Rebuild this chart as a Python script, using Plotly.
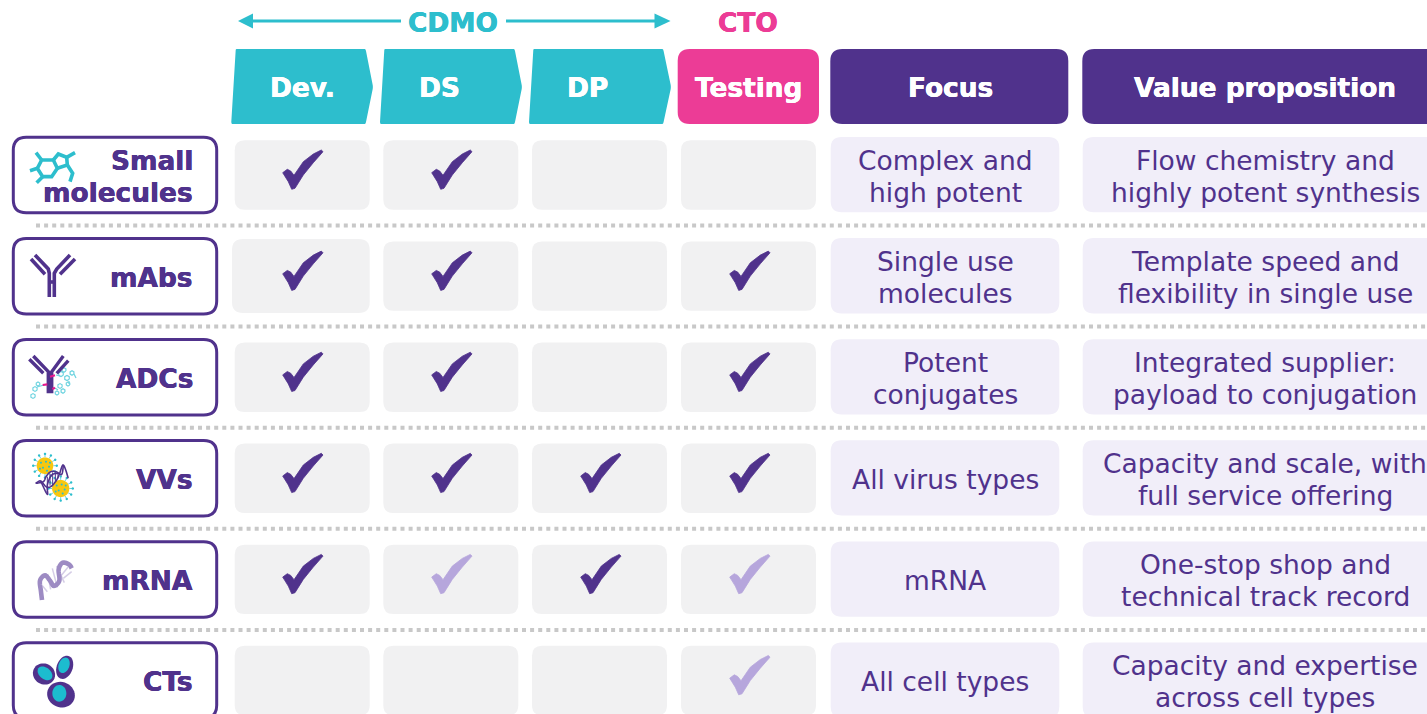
import numpy as np
import plotly.graph_objects as go

# ---------- data ----------
row_labels = [["Small", "molecules"], ["mAbs"], ["ADCs"], ["VVs"], ["mRNA"], ["CTs"]]
service_headers = ["Dev.", "DS", "DP", "Testing"]
# 2 = full offering, 1 = partial offering, 0 = none
dev_status = [2, 2, 2, 2, 2, 0]
ds_status = [2, 2, 2, 2, 1, 0]
dp_status = [0, 0, 0, 2, 2, 0]
testing_status = [0, 2, 2, 2, 1, 1]
focus_text = [["Complex and", "high potent"], ["Single use", "molecules"], ["Potent", "conjugates"],
              ["All virus types"], ["mRNA"], ["All cell types"]]
value_text = [["Flow chemistry and", "highly potent synthesis"], ["Template speed and", "flexibility in single use"],
              ["Integrated supplier:", "payload to conjugation"], ["Capacity and scale, with", "full service offering"],
              ["One-stop shop and", "technical track record"], ["Capacity and expertise", "across cell types"]]

# ---------- style / layout ----------
PURPLE, CYAN, PINK = "#50328c", "#2dbecd", "#ec3c96"
LIGHTCHK, GREY, LILAC, DOT = "#b6a6dc", "#f1f1f2", "#f1eef9", "#c8c8c8"
FONT = "DejaVu Sans"
BOLD, REG = 26.4, 26.5
ROW_STEP = 101.1
LINE_GAP = 32
TEXT_DY = -0.8
col_left = [234.7, 383.3, 532, 681]
col_right = [369.7, 518.3, 667, 816]
col_center = [302, 451, 600, 749]

shapes, annotations = [], []


def rrect(x0, y0, x1, y1, r):
    return (f"M{x0+r},{y0} L{x1-r},{y0} Q{x1},{y0} {x1},{y0+r} L{x1},{y1-r} Q{x1},{y1} {x1-r},{y1} "
            f"L{x0+r},{y1} Q{x0},{y1} {x0},{y1-r} L{x0},{y0+r} Q{x0},{y0} {x0+r},{y0} Z")


def add_path(path, fill=None, line=None, width=0, layer="below"):
    d = dict(type="path", xref="x", yref="y", path=path, layer=layer,
             line=dict(color=line or "rgba(0,0,0,0)", width=width))
    if fill:
        d["fillcolor"] = fill
    shapes.append(d)


def polyline(pts, closed=False):
    s = "M" + " L".join(f"{x:.2f},{y:.2f}" for x, y in pts)
    return s + (" Z" if closed else "")


def smooth(pts, n=8):
    p = np.array(pts, float)
    p = np.vstack([p[0], p, p[-1]])
    out = []
    for i in range(1, len(p) - 2):
        for t in np.linspace(0, 1, n, endpoint=False):
            a = 2 * p[i] + (p[i + 1] - p[i - 1]) * t + (2 * p[i - 1] - 5 * p[i] + 4 * p[i + 1] - p[i + 2]) * t**2 \
                + (-p[i - 1] + 3 * p[i] - 3 * p[i + 1] + p[i + 2]) * t**3
            out.append(a / 2)
    out.append(p[-2])
    return out


def ellipse(cx, cy, rx, ry, deg):
    t = np.linspace(0, 2 * np.pi, 40)[:-1]
    c, s = np.cos(np.radians(deg)), np.sin(np.radians(deg))
    return polyline([(cx + rx * np.cos(a) * c - ry * np.sin(a) * s, cy + rx * np.cos(a) * s + ry * np.sin(a) * c) for a in t], True)


def text(x, y, s, color, size, bold=False, anchor="center"):
    font = dict(family=FONT, size=size, color=color)
    if bold:
        font["shadow"] = f"0.3px 0 0 {color}, -0.3px 0 0 {color}"
    annotations.append(dict(x=x, y=y + TEXT_DY, xref="x", yref="y", text=f"<b>{s}</b>" if bold else s, showarrow=False,
                            xanchor=anchor, yanchor="middle", borderpad=0, font=font))


def lines(x, yc, items, color, size, bold=False, anchor="center"):
    n = len(items)
    for i, s in enumerate(items):
        text(x, yc + (i - (n - 1) / 2) * LINE_GAP, s, color, size, bold, anchor)


# ---------- top band ----------
add_path("M401,21 L250,21", None, CYAN, 3)
add_path("M238,21 L253,13.5 L253,28.5 Z", CYAN)
add_path("M506,21 L656,21", None, CYAN, 3)
add_path("M670.5,21 L654.5,13.5 L654.5,28.5 Z", CYAN)
text(453, 23, "CDMO", CYAN, BOLD, True)
text(748, 23, "CTO", PINK, BOLD, True)

# ---------- headers ----------
for x0b, x0t, x1t, x1p in [(231.3, 235.7, 365.7, 372.7), (380, 384.3, 514.7, 521.7), (529, 533.3, 663.3, 670.7)]:
    add_path(f"M{x0t+1},49 L{x1t-1},49 Q{x1t},49 {x1t+.3},51 L{x1p},85 Q{x1p+.3},87 {x1p},89 L{x1t+.3},122 Q{x1t},124 {x1t-1},124 "
             f"L{x0b+1},124 Q{x0b},124 {x0b},122 L{x0t},50 Q{x0t},49 {x0t+1},49 Z", CYAN)
add_path(rrect(677.7, 49, 819, 124, 12), PINK)
add_path(rrect(830.3, 49, 1068.3, 124, 12), PURPLE)
add_path(rrect(1082.3, 49, 1470, 124, 12), PURPLE)
for x, s in zip([302, 439, 587, 748], service_headers):
    text(x, 88, s, "white", BOLD, True)
text(950, 88, "Focus", "white", BOLD, True)
text(1265, 88, "Value proposition", "white", BOLD, True)

# ---------- rows ----------
status_cols = [dev_status, ds_status, dp_status, testing_status]
for r in range(len(row_labels)):
    dy = r * ROW_STEP
    add_path(rrect(13.3, 137.3 + dy, 216.7, 212.8 + dy, 13), "white", PURPLE, 3)
    for c in range(4):
        if r == 1 and c == 0:
            add_path(rrect(232, 137.9 + dy, 369.7, 212 + dy, 11), GREY)
        else:
            add_path(rrect(col_left[c], 140.3 + dy, col_right[c], 209.7 + dy, 10), GREY)
    add_path(rrect(830.7, 137 + dy, 1059.3, 212.3 + dy, 11), LILAC)
    add_path(rrect(1082.7, 137 + dy, 1470, 212.3 + dy, 11), LILAC)
    lines(945, 177 + dy, focus_text[r], PURPLE, REG)
    lines(1265, 177 + dy, value_text[r], PURPLE, REG)
    lines(193.7, 177 + dy, row_labels[r], PURPLE, BOLD, True, "right")
    if r < 5:
        shapes.append(dict(type="line", xref="x", yref="y", x0=36, x1=1427, y0=225.5 + dy, y1=225.5 + dy, layer="below",
                           line=dict(color=DOT, width=4, dash="4px,4.1px")))

# ---------- check marks (one outline, repeated at each filled cell) ----------
check_outline = [(-19.3, -2.3), (-14.7, -5.7), (-11.3, -4), (-8, 0.3), (1.3, -13.3), (11.3, -21), (19.3, -25), (21, -23.3),
                 (11.3, -12.3), (1.3, 0), (-7, 13.3), (-10.3, 14.3), (-13.7, 6.7), (-17, 1), (-19.3, -2.3)]
series = {2: ([], []), 1: ([], [])}
for c, col in enumerate(status_cols):
    for r, v in enumerate(col):
        if v:
            X, Y = series[v]
            X += [col_center[c] + p[0] for p in check_outline] + [None]
            Y += [175 + r * ROW_STEP + p[1] for p in check_outline] + [None]
fig = go.Figure()
for v, color in [(2, PURPLE), (1, LIGHTCHK)]:
    fig.add_trace(go.Scatter(x=series[v][0], y=series[v][1], mode="lines", fill="toself", fillcolor=color,
                             line=dict(color=color, width=0.8), hoverinfo="skip", showlegend=False))


# ---------- row icons ----------
def stroke(pts, color, w, smoothed=False):
    add_path(polyline(smooth(pts) if smoothed else pts), None, color, w, "above")


def Z(ox, oy, pts):
    return [(ox + x / 3, oy + y / 3) for x, y in pts]


# small molecule
for seg in [[(65, 60), (100, 60), (112, 85), (95, 110), (68, 110), (52, 85), (65, 60)],
            [(100, 60), (115, 42), (140, 52), (142, 75), (112, 85)],
            [(65, 60), (48, 38)], [(52, 85), (30, 92)], [(68, 110), (50, 128)], [(140, 52), (165, 38)],
            [(142, 75), (158, 100), (150, 125)]]:
    stroke(Z(20, 140, seg), CYAN, 3.6)

# antibody
for seg in [[(31, 259), (45, 274.3)], [(35, 255), (48.3, 269), (49.3, 273.3), (49.3, 297)], [(75, 259), (60, 274.3)],
            [(70, 255), (56.7, 269), (54.3, 273.3), (54.3, 297)], [(49.3, 282), (54.3, 282)]]:
    stroke(seg, PURPLE, 3.6)

# ADC
mol = "#6fd4e0"
for cx, cy, rad in [(35, 389, 2.4), (33, 396, 2.4), (38, 384, 2), (61, 374, 2.6), (67, 378, 2.6), (72, 373, 2.2), (64, 370, 2.2),
                    (60, 386, 2.4), (63, 391, 2.2), (57, 393, 2), (68, 384, 2)]:
    ang = np.radians(np.arange(30, 391, 60))
    stroke([(cx + rad * np.cos(a), cy + rad * np.sin(a)) for a in ang], mol, 1.2)
for seg in [[(37, 387), (44, 385)], [(56, 375), (60, 376)], [(55, 388), (58, 390)], [(69, 381), (69, 384)], [(74, 374), (76, 378)]]:
    stroke(seg, mol, 1.2)
for seg in [[(29.3, 359.3), (43.3, 373.3)], [(33.3, 356), (48.3, 371.7), (48.3, 393.3)], [(63.3, 356), (51.7, 371.7), (51.7, 393.3)],
            [(68.3, 360.7), (56.7, 373.3)], [(48.3, 380), (51.7, 380)]]:
    stroke(seg, PURPLE, 3.4)
for seg in [[(42.7, 385), (47.3, 384.3)], [(50, 376.7), (55, 375.3)], [(52.3, 389), (55, 387.7)]]:
    stroke(seg, "#e6198c", 2.2)

# viral vectors
for cx, cy, rad in [(45, 465.7, 8.3), (60.7, 488.5, 8.6)]:
    for a in np.radians(np.arange(0, 360, 30)):
        stroke([(cx + rad * np.cos(a), cy + rad * np.sin(a)), (cx + (rad + 3.5) * np.cos(a), cy + (rad + 3.5) * np.sin(a))], "#5cc9d6", 0.9)
        add_path(ellipse(cx + (rad + 3.5) * np.cos(a), cy + (rad + 3.5) * np.sin(a), 1.2, 1.2, 0), "#2dbecd", layer="above")
    add_path(ellipse(cx, cy, rad, rad, 0), "#f8c70f", layer="above")
    for dx, dy in [(-4, -3), (1, -4), (4, 1), (-2, 2), (2, 5), (-5, 3), (5, -3)]:
        add_path(ellipse(cx + dx, cy + dy, 1, 1, 0), "#2dbecd", layer="above")
strand1 = Z(20, 445, [(47, 115), (62, 108), (78, 125), (92, 125), (108, 108), (118, 88), (130, 60), (145, 100)])
strand2 = Z(20, 445, [(47, 115), (70, 110), (78, 95), (92, 80), (108, 80), (125, 88), (130, 60)])
strand3 = Z(20, 445, [(62, 108), (82, 148), (82, 120), (95, 90), (115, 85)])
stroke(strand1, PURPLE, 1.6, True)
stroke(strand2, PURPLE, 1.6, True)
stroke(strand3, PURPLE, 1.6, True)
for x, y0, y1 in [(82, 95, 118), (90, 86, 122), (98, 82, 124), (106, 82, 110), (114, 85, 100)]:
    stroke(Z(20, 445, [(x, y0), (x, y1)]), PURPLE, 1)

# mRNA
for (x0, y0, x1, y1) in [(68, 108, 82, 125), (83, 72, 92, 118), (97, 55, 112, 112), (110, 48, 133, 98), (145, 50, 125, 75), (155, 65, 130, 85)]:
    stroke(Z(20, 550, [(x0, y0), (x1, y1)]), "#d5cde6", 1.5)
stroke(Z(20, 550, [(66, 150), (63, 125), (60, 92), (75, 76), (90, 92), (102, 108), (118, 92), (116, 58), (128, 38), (148, 44), (155, 55)]),
       "#9d8bc3", 4.6, True)

# cells
for cx, cy, a, b, deg, icx, icy, ia, ib, ideg in [
    (72, 72, 34, 31, 30, 75, 70, 25, 17, 40),
    (134, 52, 24, 36, 20, 132, 46, 16, 24, 20),
    (123, 134, 42, 38, 20, 118, 130, 21, 25, 0),
]:
    add_path(ellipse(20 + cx / 3, 650 + cy / 3, a / 3, b / 3, deg), PURPLE, layer="above")
    add_path(ellipse(20 + icx / 3, 650 + icy / 3, ia / 3, ib / 3, ideg), "#1cbccf", layer="above")

fig.update_layout(
    width=1427, height=714, margin=dict(l=0, r=0, t=0, b=0), plot_bgcolor="white", paper_bgcolor="white",
    xaxis=dict(range=[0, 1427], visible=False, fixedrange=True),
    yaxis=dict(range=[714, 0], visible=False, fixedrange=True),
    shapes=shapes, annotations=annotations, showlegend=False,
)
fig.write_html("out.html", config=dict(displayModeBar=False),
               post_script="document.body.style.margin='0';document.documentElement.style.overflow='hidden';")
